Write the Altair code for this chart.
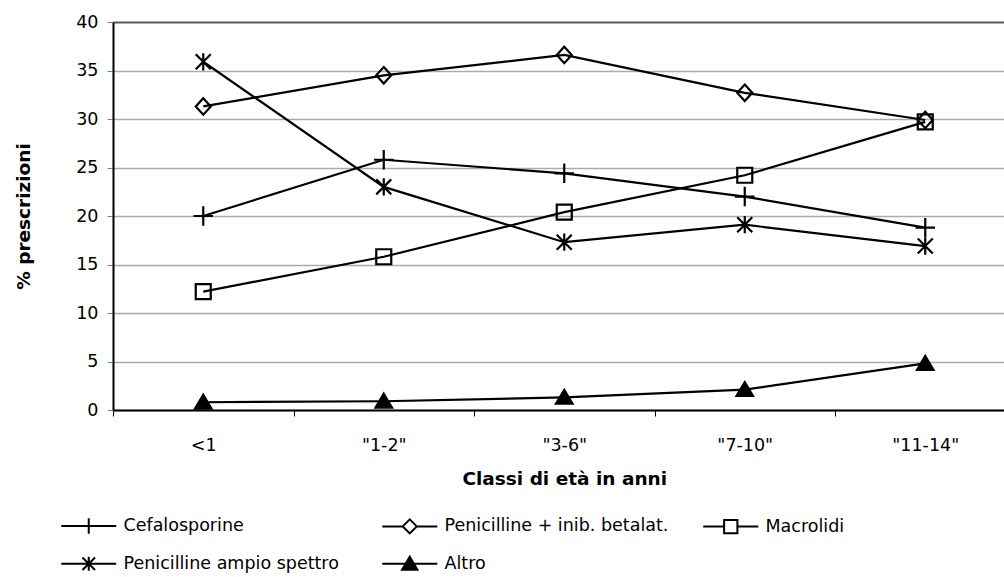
import altair as alt
import pandas as pd

# Age classes (x axis) and prescription shares (%) per antibiotic class
classi = ['<1', '"1-2"', '"3-6"', '"7-10"', '"11-14"']
serie = [
    "Cefalosporine",
    "Penicilline + inib. betalat.",
    "Macrolidi",
    "Penicilline ampio spettro",
    "Altro",
]
cefalosporine = [20.0, 25.8, 24.4, 22.0, 18.8]
penicilline_inib = [31.3, 34.5, 36.6, 32.7, 29.9]
macrolidi = [12.2, 15.8, 20.4, 24.2, 29.7]
penicilline_ampio = [35.9, 23.0, 17.3, 19.1, 16.9]
altro = [0.8, 0.9, 1.3, 2.1, 4.8]
y_ticks = [0, 5, 10, 15, 20, 25, 30, 35, 40]

valori = [cefalosporine, penicilline_inib, macrolidi, penicilline_ampio, altro]
rows = []
for nome, vals in zip(serie, valori):
    for i, (c, v) in enumerate(zip(classi, vals)):
        rows.append({"classe": c, "ordine": i, "serie": nome, "valore": v})
df = pd.DataFrame(rows)

FONT = "DejaVu Sans"

# marker outlines (unit box), used on the plot
plot_shapes = {
    "Cefalosporine": "M-1.3,0H1.3M0,-1.3V1.3",                      # cross
    "Penicilline + inib. betalat.": "M0,-1.1L1,0L0,1.1L-1,0Z",      # diamond
    "Macrolidi": "M-1,-1H1V1H-1Z",                                  # square
    "Penicilline ampio spettro": "M-1,-1L1,1M-1,1L1,-1M0,-1.15V1.15",  # asterisk
    "Altro": "M0,-1L1.1,0.85H-1.1Z",                                # triangle
}
fills = {
    "Cefalosporine": "transparent",
    "Penicilline + inib. betalat.": "transparent",
    "Macrolidi": "transparent",
    "Penicilline ampio spettro": "transparent",
    "Altro": "black",
}

# legend keys: a short line with the marker in the middle (stroke only;
# the solid triangle is shaded with horizontal strokes)
L = 3.93
tri_rows = [-0.75, -0.5, -0.25, 0.0, 0.25, 0.5, 0.75]
tri_fill = "".join(
    f"M{-1.1 * (y + 1) / 1.85:.3f},{y}H{1.1 * (y + 1) / 1.85:.3f}" for y in tri_rows
)
legend_shapes = {
    "Cefalosporine": f"M-{L},0H{L}M0,-1.1V1.1",
    "Penicilline + inib. betalat.": f"M-{L},0H-1M1,0H{L}M0,-1L1,0L0,1L-1,0Z",
    "Macrolidi": f"M-{L},0H-0.95M0.95,0H{L}M-0.95,-0.95H0.95V0.95H-0.95Z",
    "Penicilline ampio spettro": f"M-{L},0H{L}M-0.9,-0.9L0.9,0.9M-0.9,0.9L0.9,-0.9M0,-1V1",
    "Altro": f"M-{L},0H{L}M0,-1L1.1,0.85H-1.1Z" + tri_fill,
}

# legend entries are filled column by column (2 rows x 3 columns)
legend_order = [
    "Cefalosporine",
    "Penicilline ampio spettro",
    "Penicilline + inib. betalat.",
    "Altro",
    "Macrolidi",
]

x_enc = alt.X(
    "classe:N",
    sort=classi,
    scale=alt.Scale(type="band", range=[0, 902.5], paddingInner=0, paddingOuter=0),
    axis=alt.Axis(
        title="Classi di età in anni",
        labelAngle=0,
        tickBand="extent",
        tickSize=6,
        tickColor="black",
        tickWidth=1,
        domainColor="black",
        domainWidth=2,
        labelFont=FONT,
        labelFontSize=17.5,
        labelColor="black",
        labelPadding=20,
        titleFont=FONT,
        titleFontSize=18.5,
        titleFontWeight="bold",
        titleColor="black",
        titlePadding=16,
    ),
)
y_enc = alt.Y(
    "valore:Q",
    scale=alt.Scale(domain=[0, 40], nice=False),
    axis=alt.Axis(
        values=y_ticks,
        title="% prescrizioni",
        grid=True,
        gridColor={"expr": "datum.value == 40 ? '#5a5a5a' : '#ababab'"},
        gridWidth={"expr": "datum.value == 40 ? 2 : 1.4"},
        tickSize=6,
        tickColor="#808080",
        domainColor="black",
        domainWidth=2,
        labelFont=FONT,
        labelFontSize=17.5,
        labelColor="black",
        labelPadding=9,
        titleFont=FONT,
        titleFontSize=18.5,
        titleFontWeight="bold",
        titleColor="black",
        titlePadding=42,
    ),
)

base = alt.Chart(df)

lines = base.mark_line(color="black", strokeWidth=2.2).encode(
    x=x_enc, y=y_enc, detail="serie:N", order="ordine:Q"
)

points = base.mark_point(filled=True, size=225, strokeWidth=2.2, opacity=1).encode(
    x=x_enc,
    y=y_enc,
    shape=alt.Shape(
        "serie:N",
        scale=alt.Scale(domain=serie, range=[plot_shapes[s] for s in serie]),
        legend=None,
    ),
    fill=alt.Fill(
        "serie:N",
        scale=alt.Scale(domain=serie, range=[fills[s] for s in serie]),
        legend=None,
    ),
    stroke=alt.value("black"),
)

leg = alt.Legend(
    title=None,
    orient="none",
    legendX=-33,
    legendY=495,
    columns=3,
    gridAlign="all",
    columnPadding=30,
    rowPadding=14,
    symbolSize=196,
    symbolStrokeWidth=2,
    symbolStrokeColor="black",
    symbolOpacity=1,
    labelFont=FONT,
    labelFontSize=17.5,
    labelColor="black",
    labelOffset=26,
    labelLimit=400,
)

legend_layer = base.transform_filter("false").mark_point(
    filled=False, strokeWidth=2, opacity=1
).encode(
    x=x_enc,
    y=y_enc,
    shape=alt.Shape(
        "serie:N",
        scale=alt.Scale(domain=legend_order, range=[legend_shapes[s] for s in legend_order]),
        legend=leg,
    ),
    stroke=alt.value("black"),
)

chart = (
    alt.layer(lines, points, legend_layer)
    .resolve_scale(shape="independent", fill="independent")
    .properties(
        width=890,
        height=388,
        autosize=alt.AutoSizeParams(type="none"),
        padding={"left": 113, "top": 22, "right": 1, "bottom": 167},
        background="white",
    )
    .configure_view(stroke=None)
)

chart.save("out.html", embed_options={"renderer": "svg", "actions": False})
